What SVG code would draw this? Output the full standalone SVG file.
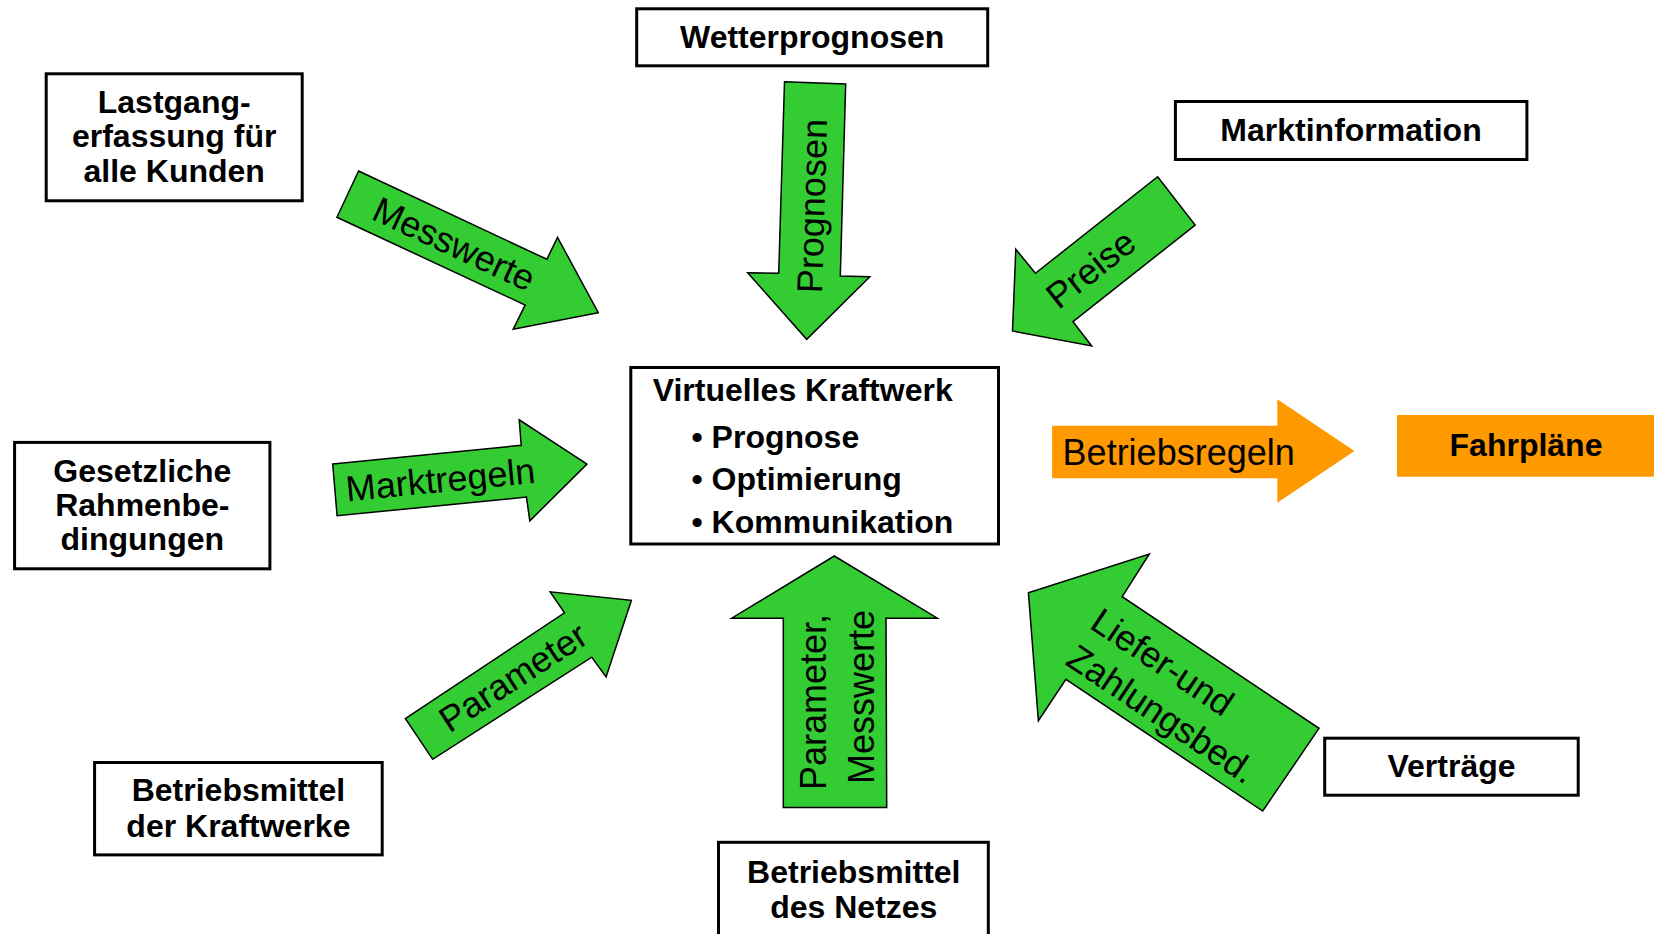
<svg xmlns="http://www.w3.org/2000/svg" width="1654" height="934" viewBox="0 0 1654 934">
  <style>
    .box { fill: #ffffff; stroke: #000000; stroke-width: 3; }
    .arrow { fill: #33CC33; stroke: #000000; stroke-width: 1.5; stroke-linejoin: miter; }
    .orange { fill: #FF9900; }
    .bt { font-family: "Liberation Sans", Arial, sans-serif; font-weight: bold; font-size: 32px; fill: #000000; }
    .lbl { font-family: "Liberation Sans", Arial, sans-serif; font-size: 36px; fill: #000000; }
    .mid { text-anchor: middle; }
  </style>
  <rect width="1654" height="934" fill="#ffffff"/>

  <!-- nodes -->
  <g id="lastgang">
    <rect class="box" x="46.2" y="73.8" width="256" height="127"/>
    <text class="bt mid" x="174.2" y="113.3">Lastgang-</text>
    <text class="bt mid" x="174.2" y="147.3">erfassung für</text>
    <text class="bt mid" x="174.2" y="182.3">alle Kunden</text>
  </g>

  <g id="wetterprognosen">
    <rect class="box" x="636.7" y="8.8" width="351" height="57"/>
    <text class="bt mid" x="812.2" y="48.3">Wetterprognosen</text>
  </g>

  <g id="marktinformation">
    <rect class="box" x="1175.4" y="101.5" width="351.5" height="58"/>
    <text class="bt mid" x="1351" y="140.7">Marktinformation</text>
  </g>

  <g id="gesetzliche">
    <rect class="box" x="14.6" y="442.4" width="255.3" height="126.4"/>
    <text class="bt mid" x="142.3" y="482">Gesetzliche</text>
    <text class="bt mid" x="142.3" y="516">Rahmenbe-</text>
    <text class="bt mid" x="142.3" y="550">dingungen</text>
  </g>

  <g id="kraftwerk">
    <rect class="box" x="630.8" y="367.5" width="367.7" height="176.5"/>
    <text class="bt" x="652.7" y="401">Virtuelles Kraftwerk</text>
    <text class="bt" x="691.5" y="447.6">• Prognose</text>
    <text class="bt" x="691.5" y="489.7">• Optimierung</text>
    <text class="bt" x="691.5" y="532.5">• Kommunikation</text>
  </g>

  <g id="fahrplaene">
    <rect class="orange" x="1397" y="415" width="257" height="61.7"/>
    <text class="bt mid" x="1526" y="456">Fahrpläne</text>
  </g>

  <g id="betriebsmittel-kraftwerke">
    <rect class="box" x="94.6" y="762.5" width="287.6" height="92.4"/>
    <text class="bt mid" x="238.4" y="801.2">Betriebsmittel</text>
    <text class="bt mid" x="238.4" y="836.6">der Kraftwerke</text>
  </g>

  <g id="betriebsmittel-netz">
    <rect class="box" x="718.5" y="842.3" width="269.8" height="100"/>
    <text class="bt mid" x="853.8" y="883.3">Betriebsmittel</text>
    <text class="bt mid" x="853.8" y="918.3">des Netzes</text>
  </g>

  <g id="vertraege">
    <rect class="box" x="1324.7" y="738.2" width="253.5" height="57"/>
    <text class="bt mid" x="1451.5" y="776.7">Verträge</text>
  </g>

  <!-- block arrows (connectors) with their labels -->
  <g id="connectors">
    <g id="c-messwerte">
      <polygon class="arrow" points="358.6,171 546.9,259.3 557.5,237.3 598.3,312.7 513.2,329.3 525.1,305 336.9,217.3"/>
      <text class="lbl mid" transform="translate(454.1,243.8) rotate(25)" y="12.6">Messwerte</text>
    </g>
    <g id="c-prognosen">
      <polygon class="arrow" points="784.5,81.7 845.7,84 840.3,276 869.8,276.7 806.7,339.3 747.7,272.7 778.7,273.3"/>
      <text class="lbl mid" transform="translate(812,206) rotate(-88.3)" y="12.6">Prognosen</text>
    </g>
    <g id="c-preise">
      <polygon class="arrow" points="1157.6,176.7 1195.2,225 1073,321.7 1091.7,346 1012.5,331 1015.8,249.3 1035.4,273.3"/>
      <text class="lbl mid" transform="translate(1090.6,268.7) rotate(-38.3)" y="12.6">Preise</text>
    </g>
    <g id="c-marktregeln">
      <polygon class="arrow" points="332.7,464 521.2,445.3 519.2,419.8 587,464 529.8,520.9 526.5,497.1 337.1,515.8"/>
      <text class="lbl mid" transform="translate(440.4,479.6) rotate(-5.6)" y="12.6">Marktregeln</text>
    </g>
    <g id="c-parameter">
      <polygon class="arrow" points="405.3,718.5 564.5,612.9 550.2,591.8 631.4,600.3 606.1,676.9 591.8,657.2 432.7,759.3"/>
      <text class="lbl mid" transform="translate(513,677) rotate(-33.1)" y="12.6">Parameter</text>
    </g>
    <g id="c-netz">
      <polygon class="arrow" points="834.3,556 937.3,618.2 886,618.2 886.7,807.4 783.3,807.4 783.3,618.2 731.7,618.2"/>
      <text class="lbl mid" transform="translate(826,697) rotate(-90)">
        <tspan x="0" y="0">Parameter,</tspan>
        <tspan x="0" y="48">Messwerte</tspan>
      </text>
    </g>
    <g id="c-vertraege">
      <polygon class="arrow" points="1028.4,592.7 1149.3,554 1122.2,596.7 1319,728.3 1262.7,811 1065.9,679.3 1038.4,720.7"/>
      <text class="lbl" transform="translate(1088.3,627.3) rotate(33.8)">
        <tspan x="0" y="0">Liefer-und</tspan>
        <tspan x="0" y="43.8">Zahlungsbed.</tspan>
      </text>
    </g>
    <g id="c-betriebsregeln">
      <polygon class="orange" points="1052.1,425.7 1277.3,425.7 1277.3,399.3 1354.5,451 1277.3,502.7 1277.3,478.3 1052.1,478.3"/>
      <text class="lbl" x="1062.6" y="465">Betriebsregeln</text>
    </g>
  </g>
</svg>
